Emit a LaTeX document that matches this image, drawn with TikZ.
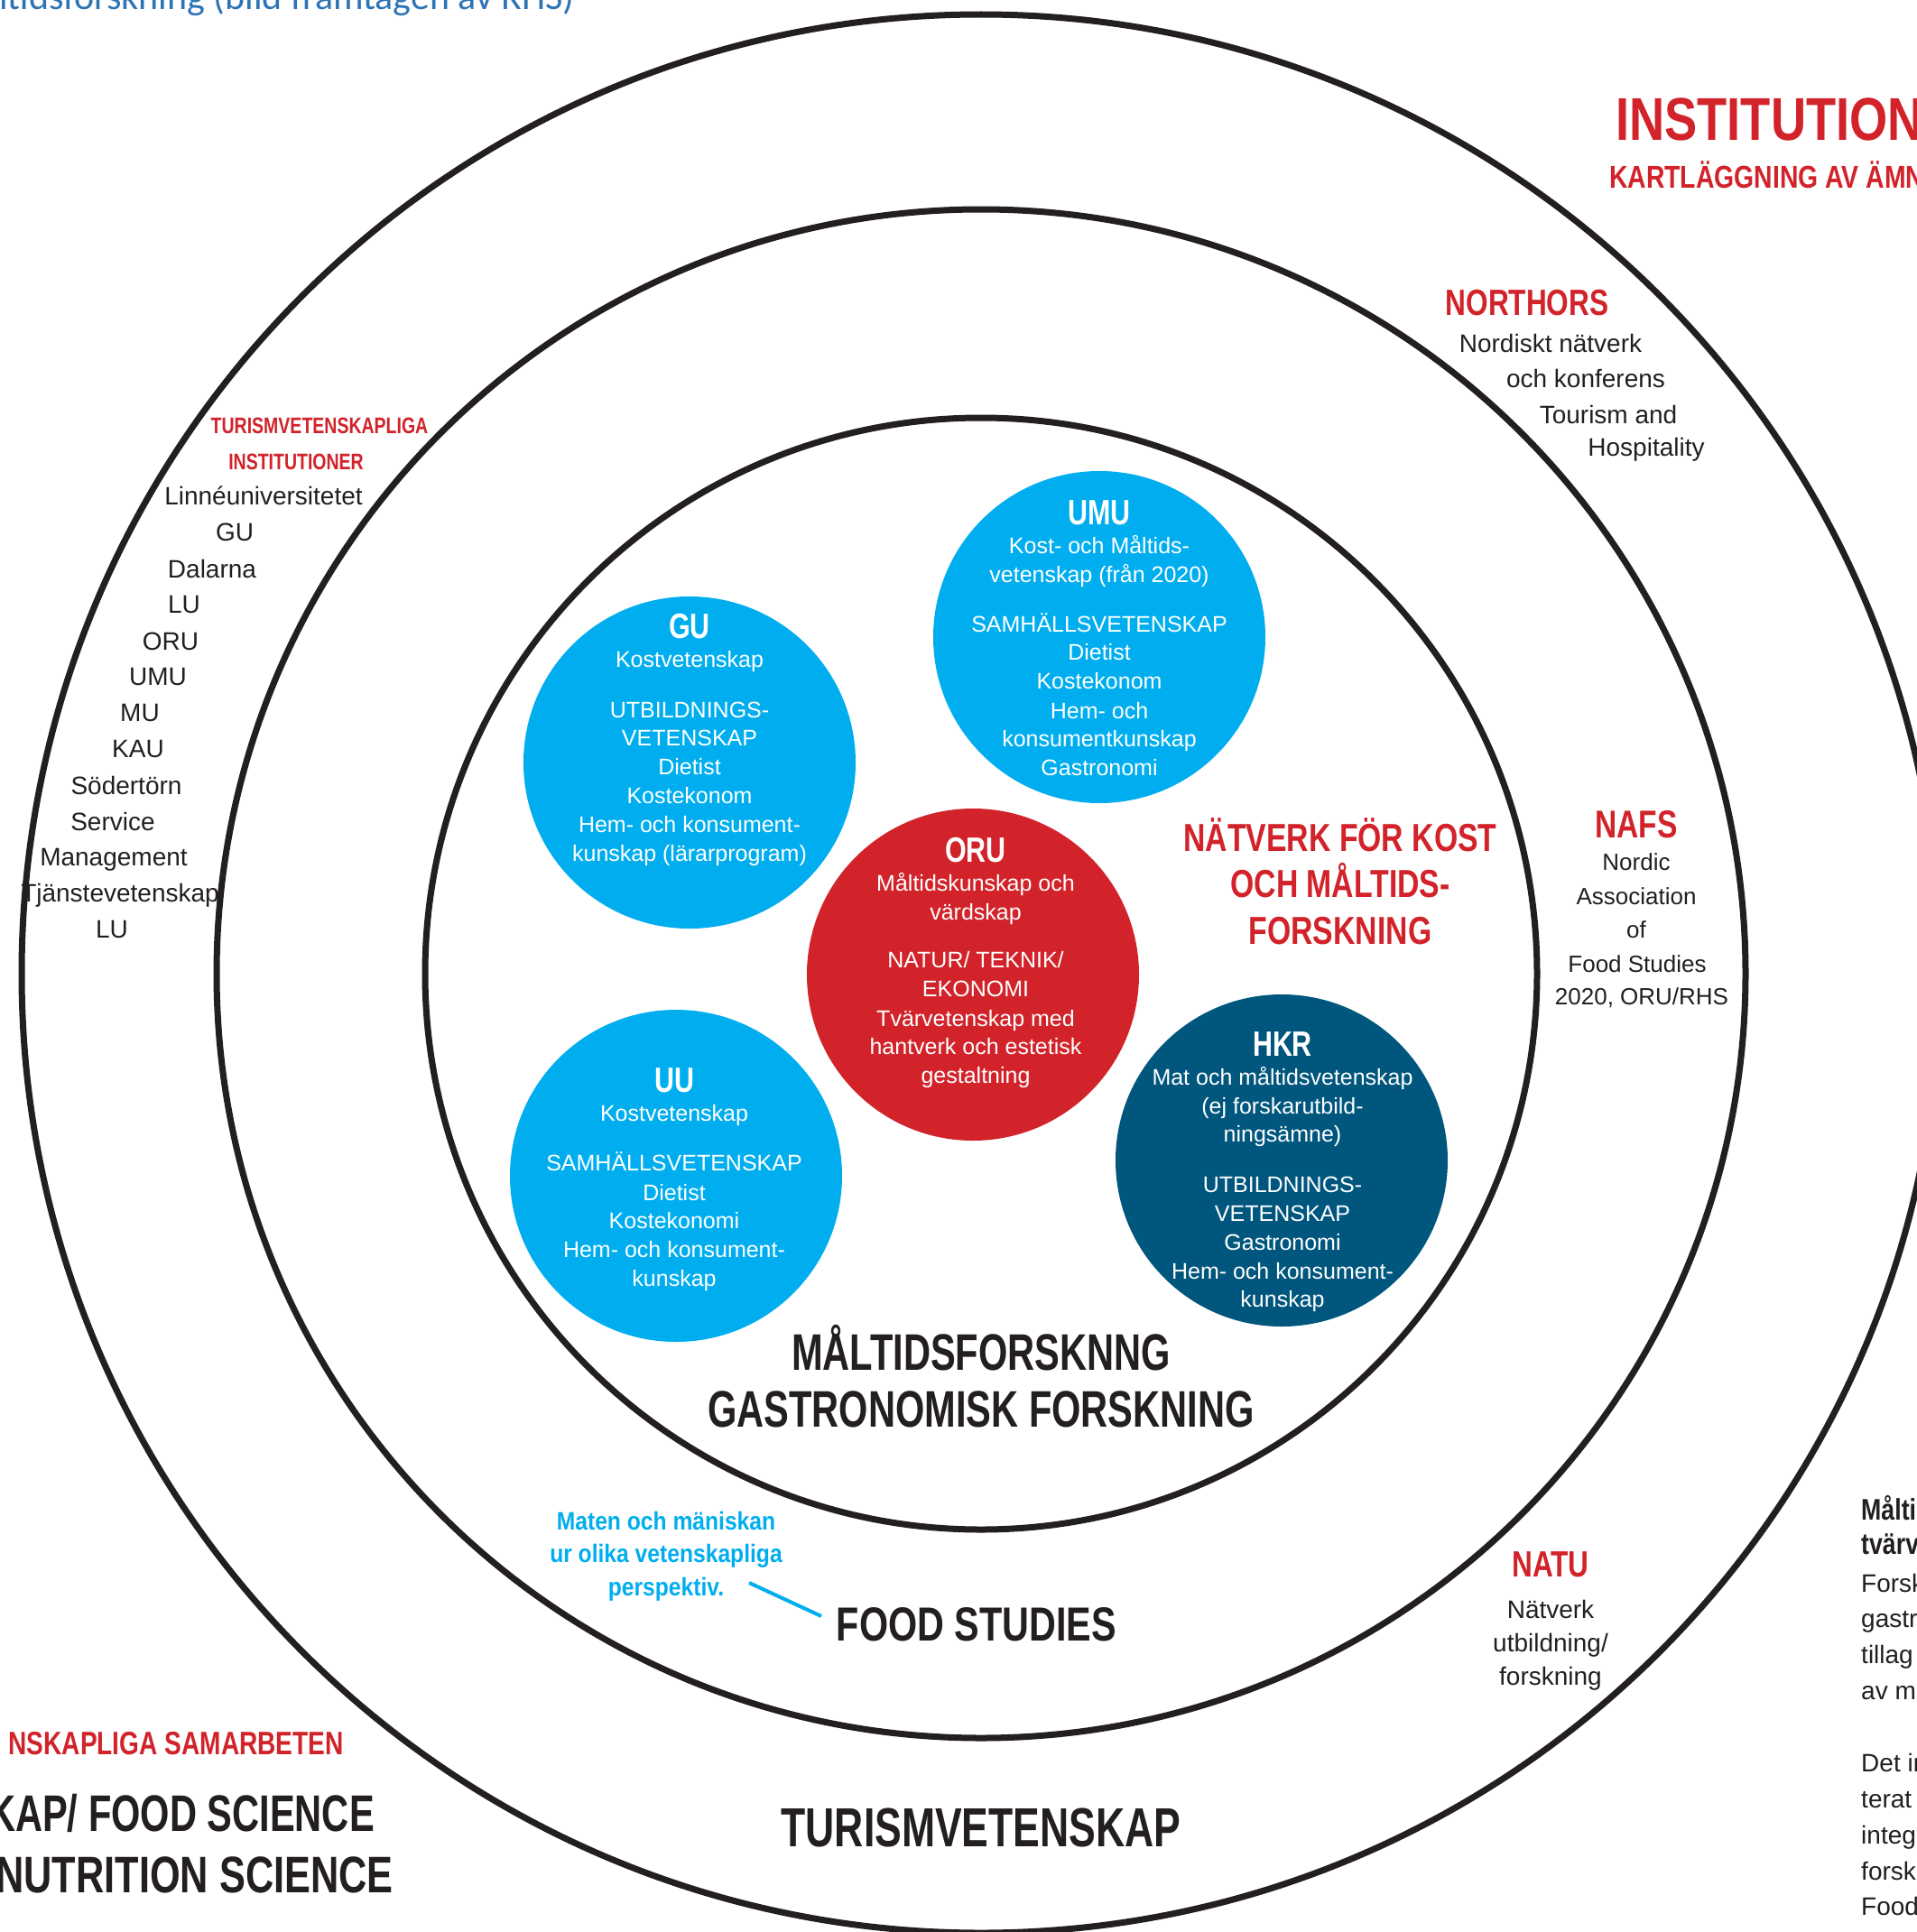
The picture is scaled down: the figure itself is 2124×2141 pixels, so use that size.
\documentclass[tikz,border=0pt]{standalone}
\usepackage{fontspec}
\setmainfont{Liberation Sans}
\newfontfamily\cbt{Liberation Sans}[FakeStretch=0.73]
\newfontfamily\cbm{Liberation Sans}[FakeStretch=0.76]
\newfontfamily\cb{Liberation Sans}[FakeStretch=0.78]
\newfontfamily\cbx{Liberation Sans}[FakeStretch=0.81]
\newfontfamily\cbw{Liberation Sans}[FakeStretch=0.88]
\newfontfamily\capfont{Carlito}
\newcommand\fsz[1]{\fontsize{#1}{#1}\selectfont}

\definecolor{ink}{HTML}{231F20}
\definecolor{redc}{HTML}{D2232A}
\definecolor{cyanc}{HTML}{00AEEF}
\definecolor{tealc}{HTML}{00567D}
\definecolor{capblue}{HTML}{2E74B5}

\tikzset{
  ring/.style={draw=ink, line width=7},
  disc/.style={circle, minimum size=368, inner sep=0, draw=none},
  lbl/.style={inner sep=0, anchor=base},
  ctext/.style={lbl, text=white, font=\fsz{25}},
  chead/.style={lbl, text=white, font={\cb\bfseries\fsz{39}}},
  body/.style={lbl, text=ink, font=\fsz{28}},
  smallbody/.style={lbl, text=ink, font=\fsz{26}},
  redlbl/.style={lbl, text=redc, font={\cb\bfseries\fsz{#1}}},
  widered/.style={lbl, text=redc, font={\cbx\bfseries\fsz{#1}}},
  bigtitle/.style={lbl, text=ink, font={\cbt\bfseries\fsz{#1}}},
  sidebold/.style={lbl, anchor=base west, text=ink, font={\cbx\bfseries\fsz{33}}},
  note/.style={lbl, text=cyanc, font={\cbw\bfseries\fsz{28}}},
  pointer/.style={draw=cyanc, line width=4}
}

\begin{document}
\begin{tikzpicture}[x=1pt, y=-1pt]
\useasboundingbox (0,0) rectangle (2124,2141);
\clip (0,0) rectangle (2124,2141);
\fill[white] (0,0) rectangle (2124,2141);

% caption fragment at the top edge
\node[lbl, anchor=base west, text=capblue, font={\capfont\fsz{42}}] (caption) at (-1,11)
  {ltidsforskning (bild framtagen av RHS)};

% concentric rings
\coordinate (ctr) at (1087,1079);
\draw[ring] (ctr) circle[radius=1063pt];
\draw[ring] (ctr) circle[radius=847pt];
\draw[ring] (ctr) circle[radius=616pt];

% heading, top right
\node[widered=67, anchor=base west] (inst) at (1790,155) {INSTITUTION};
\node[widered=35, anchor=base west] (kart) at (1783,208) {KARTLÄGGNING AV ÄMN};

% NORTHORS
\node[redlbl=40.5] (northors) at (1692,349) {NORTHORS};
\node[body] (no1) at (1718,390) {Nordiskt nätverk};
\node[body] (no2) at (1757,429) {och konferens};
\node[body] (no3) at (1782,469) {Tourism and};
\node[body] (no4) at (1824,505) {Hospitality};

% tourism institutions, left
\node[redlbl=25] (tv1) at (354,480) {TURISMVETENSKAPLIGA};
\node[redlbl=25] (tv2) at (328,520) {INSTITUTIONER};
\node[body] (l1) at (292,559) {Linnéuniversitetet};
\node[body] (l2) at (260,599) {GU};
\node[body] (l3) at (235,640) {Dalarna};
\node[body] (l4) at (204,679) {LU};
\node[body] (l5) at (189,720) {ORU};
\node[body] (l6) at (175,759) {UMU};
\node[body] (l7) at (155,799) {MU};
\node[body] (l8) at (153,839) {KAU};
\node[body] (l9) at (140,880) {Södertörn};
\node[body] (l10) at (125,920) {Service};
\node[body] (l11) at (126,959) {Management};
\node[body] (l12) at (133,999) {Tjänstevetenskap};
\node[body] (l13) at (124,1039) {LU};

% NAFS
\node[redlbl=43] (nafs) at (1813,928) {NAFS};
\node[smallbody] (na1) at (1813,964) {Nordic};
\node[smallbody] (na2) at (1813,1002) {Association};
\node[smallbody] (na3) at (1813,1039) {of};
\node[smallbody] (na4) at (1814,1077) {Food Studies};
\node[smallbody] (na5) at (1819,1113) {2020, ORU/RHS};

% NATU
\node[redlbl=40.5] (natu) at (1718,1747) {NATU};
\node[body] (nt1) at (1718,1793) {Nätverk};
\node[body] (nt2) at (1718,1830) {utbildning/};
\node[body] (nt3) at (1718,1867) {forskning};

% network heading
\node[redlbl=43.3] (nk1) at (1485,943) {NÄTVERK FÖR KOST};
\node[redlbl=43.3] (nk2) at (1485,994) {OCH MÅLTIDS-};
\node[redlbl=43.3] (nk3) at (1485,1046) {FORSKNING};

% GU
\node[disc, fill=cyanc] (gu) at (764,845) {};
\node[chead] (gu0) at (764,707) {GU};
\node[ctext] (gu1) at (764,739) {Kostvetenskap};
\node[ctext] (gu2) at (764,795) {UTBILDNINGS-};
\node[ctext] (gu3) at (764,826) {VETENSKAP};
\node[ctext] (gu4) at (764,858) {Dietist};
\node[ctext] (gu5) at (764,890) {Kostekonom};
\node[ctext] (gu6) at (764,922) {Hem- och konsument-};
\node[ctext] (gu7) at (764,954) {kunskap (lärarprogram)};

% UMU
\node[disc, fill=cyanc] (umu) at (1218,706) {};
\node[chead] (umu0) at (1218,581) {UMU};
\node[ctext] (umu1) at (1218,613) {Kost- och Måltids-};
\node[ctext] (umu2) at (1218,645) {vetenskap (från 2020)};
\node[ctext] (umu3) at (1218,700) {SAMHÄLLSVETENSKAP};
\node[ctext] (umu4) at (1218,731) {Dietist};
\node[ctext] (umu5) at (1218,763) {Kostekonom};
\node[ctext] (umu6) at (1218,796) {Hem- och};
\node[ctext] (umu7) at (1218,827) {konsumentkunskap};
\node[ctext] (umu8) at (1218,859) {Gastronomi};

% ORU
\node[disc, fill=redc] (oru) at (1078,1080) {};
\node[chead] (oru0) at (1081,955) {ORU};
\node[ctext] (oru1) at (1081,987) {Måltidskunskap och};
\node[ctext] (oru2) at (1081,1019) {värdskap};
\node[ctext] (oru3) at (1081,1072) {NATUR/ TEKNIK/};
\node[ctext] (oru4) at (1081,1104) {EKONOMI};
\node[ctext] (oru5) at (1081,1137) {Tvärvetenskap med};
\node[ctext] (oru6) at (1081,1168) {hantverk och estetisk};
\node[ctext] (oru7) at (1081,1200) {gestaltning};

% UU
\node[disc, fill=cyanc] (uu) at (749,1303) {};
\node[chead] (uu0) at (747,1210) {UU};
\node[ctext] (uu1) at (747,1242) {Kostvetenskap};
\node[ctext] (uu2) at (747,1297) {SAMHÄLLSVETENSKAP};
\node[ctext] (uu3) at (747,1330) {Dietist};
\node[ctext] (uu4) at (747,1361) {Kostekonomi};
\node[ctext] (uu5) at (747,1393) {Hem- och konsument-};
\node[ctext] (uu6) at (747,1425) {kunskap};

% HKR
\node[disc, fill=tealc] (hkr) at (1420,1286) {};
\node[chead] (hkr0) at (1421,1170) {HKR};
\node[ctext] (hkr1) at (1421,1202) {Mat och måltidsvetenskap};
\node[ctext] (hkr2) at (1421,1234) {(ej forskarutbild-};
\node[ctext] (hkr3) at (1421,1265) {ningsämne)};
\node[ctext] (hkr4) at (1421,1321) {UTBILDNINGS-};
\node[ctext] (hkr5) at (1421,1353) {VETENSKAP};
\node[ctext] (hkr6) at (1421,1385) {Gastronomi};
\node[ctext] (hkr7) at (1421,1417) {Hem- och konsument-};
\node[ctext] (hkr8) at (1421,1448) {kunskap};

% ring titles
\node[bigtitle=57] (mf1) at (1087,1518) {MÅLTIDSFORSKNNG};
\node[bigtitle=57] (mf2) at (1087,1581) {GASTRONOMISK FORSKNING};
\node[lbl, text=ink, font={\cb\bfseries\fsz{53}}] (fs) at (1082,1818) {FOOD STUDIES};
\node[bigtitle=61] (tv) at (1087,2046) {TURISMVETENSKAP};

% note on food studies
\node[note] (nt-a) at (738,1695) {Maten och mäniskan};
\node[note] (nt-b) at (738,1731) {ur olika vetenskapliga};
\node[note] (nt-c) at (738,1768) {perspektiv.};
\coordinate (ptrA) at (830,1754);
\coordinate (ptrB) at (910,1791);
\draw[pointer] (ptrA) -- (ptrB);

% bottom left headings
\node[redlbl=36, anchor=base east] (sam) at (381,1944) {NSKAPLIGA SAMARBETEN};
\node[bigtitle=57, anchor=base east] (fsc) at (415,2029) {KAP/ FOOD SCIENCE};
\node[lbl, anchor=base east, text=ink, font={\cbm\bfseries\fsz{57}}] (nsc) at (436,2097) {NUTRITION SCIENCE};

% text column at the right edge
\node[sidebold] (r1) at (2062,1684) {Målti};
\node[sidebold] (r2) at (2062,1722) {tvärv};
\node[body, anchor=base west] (r3) at (2062,1764) {Forsk};
\node[body, anchor=base west] (r4) at (2062,1803) {gastro};
\node[body, anchor=base west] (r5) at (2062,1843) {tillag};
\node[body, anchor=base west] (r6) at (2062,1883) {av ma};
\node[body, anchor=base west] (r7) at (2062,1963) {Det in};
\node[body, anchor=base west] (r8) at (2062,2003) {terat};
\node[body, anchor=base west] (r9) at (2062,2043) {integ};
\node[body, anchor=base west] (r10) at (2062,2083) {forsk};
\node[body, anchor=base west] (r11) at (2062,2122) {Food};
\end{tikzpicture}
\end{document}
